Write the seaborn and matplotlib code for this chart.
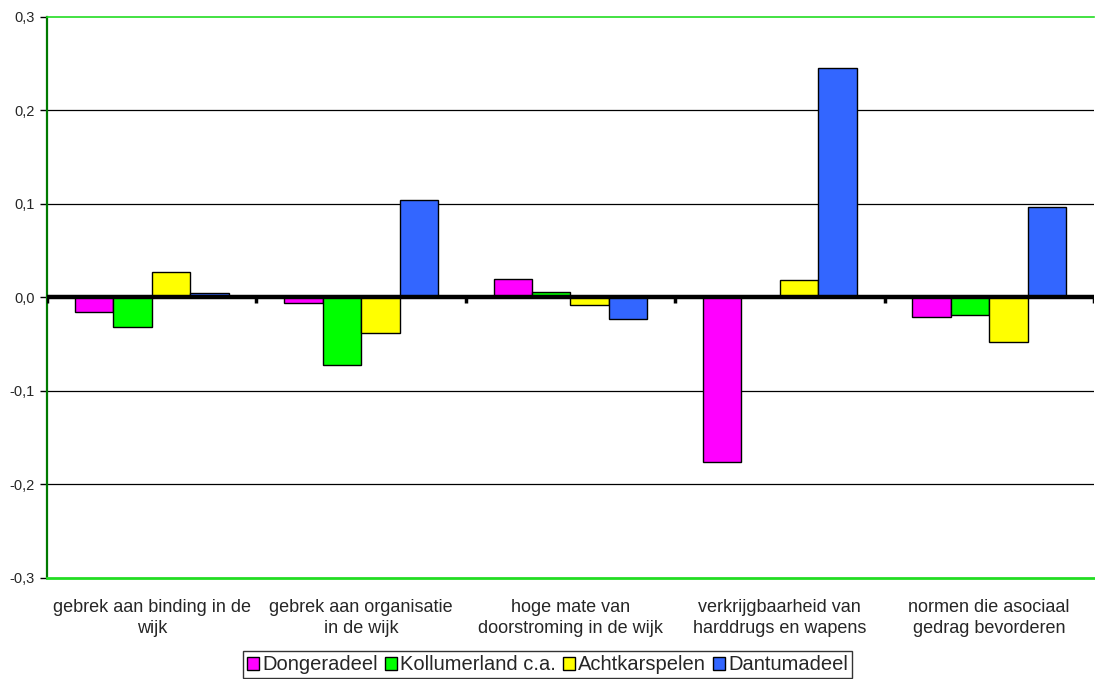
import pandas as pd
import numpy as np
import matplotlib.pyplot as plt
import seaborn as sns

# Data
categorieen = ["gebrek aan binding in de\nwijk",
               "gebrek aan organisatie\nin de wijk",
               "hoge mate van\ndoorstroming in de wijk",
               "verkrijgbaarheid van\nharddrugs en wapens",
               "normen die asociaal\ngedrag bevorderen"]
gemeenten = ["Dongeradeel", "Kollumerland c.a.", "Achtkarspelen", "Dantumadeel"]
dongeradeel = [-0.016, -0.006, 0.020, -0.176, -0.021]
kollumerland = [-0.032, -0.072, 0.006, 0.002, -0.019]
achtkarspelen = [0.027, -0.038, -0.008, 0.019, -0.048]
dantumadeel = [0.005, 0.104, -0.023, 0.245, 0.097]
kleuren = ["#FF00FF", "#00FF00", "#FFFF00", "#3366FF"]
yticks = [-0.3, -0.2, -0.1, 0.0, 0.1, 0.2, 0.3]

reeksen = [dongeradeel, kollumerland, achtkarspelen, dantumadeel]
rows = []
for g, waarden in zip(gemeenten, reeksen):
    for c, w in zip(categorieen, waarden):
        rows.append({"categorie": c, "gemeente": g, "waarde": w})
df = pd.DataFrame(rows)

sns.set_style("white")
plt.rcParams['font.family'] = ['Liberation Sans', 'DejaVu Sans']

fig, ax = plt.subplots(figsize=(10.95, 6.79), dpi=100)
fig.subplots_adjust(left=0.043, right=0.999, top=0.975, bottom=0.149)

sns.barplot(data=df, x="categorie", y="waarde", hue="gemeente",
            palette=kleuren, saturation=1, width=0.735, edgecolor="black",
            linewidth=1, ax=ax, zorder=3)

ax.set_ylim(-0.3, 0.3)
ax.set_xlim(-0.5, len(categorieen) - 0.5)
ax.set_yticks(yticks)
ax.set_yticklabels([f"{v:.1f}".replace(".", ",") for v in yticks], fontsize=10.5)
ax.tick_params(axis="y", length=5, width=1, color="black", pad=4, left=True)
ax.tick_params(axis="x", length=0, pad=15, labelsize=13)
for t in ax.get_xticklabels():
    t.set_linespacing(1.35)
ax.set_xlabel("")
ax.set_ylabel("")

# gridlines
for v in yticks[1:-1]:
    if v != 0:
        ax.axhline(v, color="black", lw=0.9, zorder=1)
ax.axhline(0, color="black", lw=3.2, zorder=4)
# small category separators on zero line
ax.vlines(np.arange(len(categorieen) + 1) - 0.5, -0.006, 0, color="black", lw=2.5, zorder=4)

ax.spines["left"].set_color("#007a00")
ax.spines["left"].set_linewidth(1.6)
ax.spines["top"].set_color("#22dd22")
ax.spines["top"].set_linewidth(1.2)
ax.spines["bottom"].set_color("#22dd22")
ax.spines["bottom"].set_linewidth(2)
ax.spines["right"].set_visible(False)

handles, labels = ax.get_legend_handles_labels()
ax.get_legend().remove()
leg = fig.legend(handles, labels, loc="lower center", bbox_to_anchor=(0.5, -0.014),
                 ncol=4, frameon=True, fancybox=False, edgecolor="black",
                 fontsize=14.5, handlelength=0.6, handleheight=0.6,
                 handletextpad=0.15, columnspacing=0.35, borderpad=0.2)
leg.get_frame().set_linewidth(1)

plt.savefig("out.png", dpi=100)
plt.close()
